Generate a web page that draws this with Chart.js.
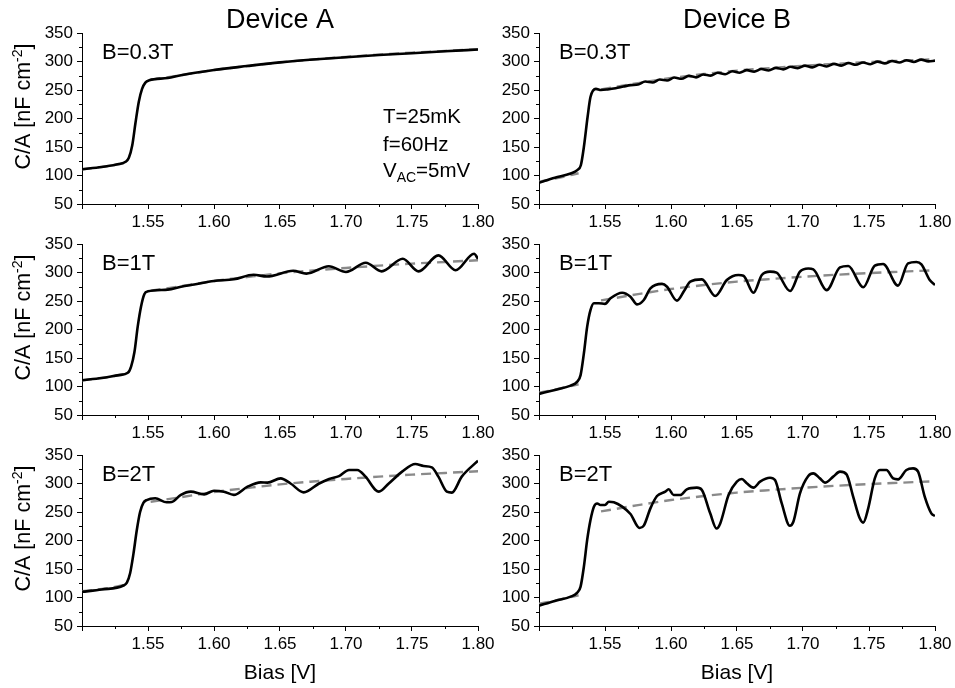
<!DOCTYPE html>
<html>
<head>
<meta charset="utf-8">
<title>C/A vs Bias</title>
<script src="https://cdn.jsdelivr.net/npm/chart.js@4.4.0/dist/chart.umd.min.js"></script>
<style>
  html, body { margin: 0; padding: 0; background: #fff; }
  #wrap { position: relative; width: 955px; height: 688px; overflow: hidden; }
  #wrap canvas { position: absolute; left: 0; top: 0; }
</style>
</head>
<body>
<div id="wrap">
  <canvas id="a03" width="955" height="688"></canvas>
  <canvas id="b03" width="955" height="688"></canvas>
  <canvas id="a1" width="955" height="688"></canvas>
  <canvas id="b1" width="955" height="688"></canvas>
  <canvas id="a2" width="955" height="688"></canvas>
  <canvas id="b2" width="955" height="688"></canvas>
</div>
<script>
// axis ticks
const xTicks = [1.50, 1.55, 1.60, 1.65, 1.70, 1.75, 1.80];
const xMinor = [1.525, 1.575, 1.625, 1.675, 1.725, 1.775];
const yTicks = [50, 100, 150, 200, 250, 300, 350];
const yMinor = [75, 125, 175, 225, 275, 325];

// dashed reference curves (null = gap across the step)
const aFitX = [1.500, 1.518, 1.535, 1.540, 1.552, 1.575, 1.600, 1.625, 1.650, 1.675, 1.700, 1.725, 1.750, 1.775, 1.800];
const aFitY = [111, 116, 123, null, 268, 276, 285, 292, 298.5, 303.5, 308, 312, 315.5, 318.5, 321.5];
const bFitX = [1.500, 1.515, 1.530, 1.540, 1.547, 1.575, 1.600, 1.625, 1.650, 1.675, 1.700, 1.725, 1.750, 1.775, 1.800];
const bFitY = [89, 96, 104, null, 251, 262, 271, 278, 284, 288.5, 292.5, 296, 299, 301.5, 304];

// Device A, B = 0.3 T
const a03X = [1.500, 1.515, 1.528, 1.533, 1.5355, 1.538, 1.5405, 1.543, 1.5455, 1.548, 1.551, 1.565, 1.575, 1.600, 1.625, 1.650, 1.675, 1.700, 1.725, 1.750, 1.775, 1.800];
const a03Y = [111, 115, 120, 124, 131, 152, 192, 229, 252, 263, 267, 271, 276, 285, 292, 298.5, 303.5, 307.5, 311.5, 314.5, 318, 321];

// Device A, B = 1 T
const a1X = [1.500, 1.515, 1.528, 1.5347, 1.5372, 1.5397, 1.5422, 1.5447, 1.5472, 1.550, 1.565, 1.575, 1.585, 1.600, 1.615, 1.630, 1.640, 1.660, 1.670, 1.687, 1.700, 1.715, 1.727, 1.743, 1.755, 1.770, 1.783, 1.797, 1.800];
const a1Y = [111, 115, 120, 124, 135, 160, 205, 240, 262, 267, 270, 275, 279, 285, 288, 296, 293, 303, 298, 311, 301, 317, 302, 324, 302, 330, 304, 333, 324];

// Device A, B = 2 T
const a2X = [1.500, 1.515, 1.5314, 1.534, 1.5364, 1.539, 1.5415, 1.544, 1.5465, 1.549, 1.5555, 1.5641, 1.568, 1.5749, 1.5824, 1.5925, 1.600, 1.6075, 1.615, 1.6254, 1.6354, 1.6405, 1.6505, 1.658, 1.668, 1.6796, 1.6872, 1.6947, 1.7023, 1.7085, 1.7148, 1.7224, 1.7249, 1.7324, 1.7425, 1.7525, 1.7588, 1.765, 1.770, 1.7764, 1.7802, 1.7877, 1.800];
const a2Y = [110, 114, 121, 126, 142, 177, 218, 250, 266, 271, 274, 267, 267.5, 280, 285.7, 281, 287.4, 285.7, 280, 294.4, 302, 301.5, 309, 300, 284.5, 300, 308, 313, 323.7, 323.7, 312, 288.6, 285.7, 300, 320.8, 334.2, 330.7, 328.4, 312, 285.7, 284, 312, 340];

// Device B, B = 0.3 T
const b03X = [1.500, 1.512, 1.524, 1.529, 1.5317, 1.534, 1.5368, 1.539, 1.5431, 1.547, 1.552, 1.558, 1.564, 1.5695,
  1.5750, 1.5805, 1.5860, 1.5915, 1.5970, 1.6025, 1.6080, 1.6135, 1.6190, 1.6245, 1.6300, 1.6355, 1.6410, 1.6465,
  1.6520, 1.6575, 1.6630, 1.6685, 1.6740, 1.6795, 1.6850, 1.6905, 1.6960, 1.7015, 1.7070, 1.7125, 1.7180, 1.7235,
  1.7290, 1.7345, 1.7400, 1.7455, 1.7510, 1.7565, 1.7620, 1.7675, 1.7730, 1.7785, 1.7840, 1.7895, 1.7950, 1.8000];
const b03Y = [87.3, 96, 103.6, 109.5, 118, 150, 202.6, 237.6, 252, 250, 251, 253, 256, 258.5,
  259.5, 264.8, 263.2, 268.3, 266.7, 271.8, 269.7, 274.8, 272.2, 277.3, 275.2, 280.3, 277.7, 282.8,
  280.2, 284.8, 282.2, 286.8, 284.2, 288.8, 286.2, 290.8, 288.2, 292.8, 289.7, 294.3, 291.2, 295.8,
  292.7, 297.3, 294.2, 298.3, 295.2, 299.8, 296.7, 300.8, 298.2, 302.3, 299.2, 303.3, 300.2, 301.5];

// Device B, B = 1 T
const b1X = [1.500, 1.512, 1.524, 1.529, 1.5315, 1.534, 1.5365, 1.539, 1.5416, 1.5453, 1.550, 1.5542, 1.563, 1.5693, 1.5743, 1.5794, 1.5844, 1.5932, 1.597, 1.6045, 1.610, 1.6146, 1.6234, 1.6335, 1.6423, 1.6511, 1.6549, 1.6625, 1.6688, 1.675, 1.680, 1.6902, 1.6977, 1.704, 1.7078, 1.7179, 1.728, 1.7343, 1.7456, 1.7544, 1.7607, 1.772, 1.7796, 1.7859, 1.7897, 1.796, 1.800];
const b1Y = [87, 94, 101.5, 108.5, 120, 158, 205, 234, 246, 246, 245, 254.7, 264.6, 257.6, 244, 251.8, 272, 280, 275, 250.6, 268, 284, 288, 258.8, 286.8, 295.6, 294.4, 264.6, 295.6, 301.5, 299.7, 267.5, 301.5, 307, 305.6, 269, 309, 311.4, 274, 312, 315, 277, 316, 318.4, 314.3, 286.8, 278];

// Device B, B = 2 T
const b2X = [1.500, 1.512, 1.524, 1.529, 1.5315, 1.534, 1.5365, 1.539, 1.5416, 1.5441, 1.5466, 1.550, 1.5529, 1.5567, 1.563, 1.5693, 1.5762, 1.5794, 1.5844, 1.5894, 1.5957, 1.5982, 1.602, 1.607, 1.612, 1.6196, 1.6234, 1.6297, 1.6345, 1.6373, 1.6436, 1.6499, 1.6537, 1.6574, 1.6625, 1.6675, 1.675, 1.6788, 1.6839, 1.690, 1.6927, 1.6977, 1.704, 1.7078, 1.7128, 1.7166, 1.7229, 1.728, 1.733, 1.738, 1.743, 1.7456, 1.7494, 1.7544, 1.7582, 1.7632, 1.7683, 1.772, 1.7783, 1.7834, 1.7872, 1.7922, 1.7972, 1.800];
const b2Y = [85.7, 94, 101.5, 108.5, 119, 154, 201, 236, 259.4, 265, 262.3, 262.3, 268, 267, 259.4, 246.5, 222, 226, 256.4, 278, 285.7, 289.8, 279.8, 279.8, 289.8, 292.7, 288.6, 247.7, 221, 230, 279.8, 303.2, 307.9, 300.3, 292.7, 303.2, 310.2, 306, 265, 226, 233, 282.7, 313.2, 317.8, 309, 301.5, 312, 320.8, 316, 277, 238.9, 231.3, 256.4, 309, 323.7, 323.7, 309, 307.3, 323.7, 326.6, 320.8, 277, 247.7, 243];

const FONT = '"Liberation Sans", Arial, Helvetica, sans-serif';
Chart.defaults.font.family = FONT;
Chart.defaults.color = '#000';

// plot-area frame for each column / row
const cols = [{ left: 82, right: 478, axisW: 82 }, { left: 539, right: 935, axisW: 50 }];
const rows = [{ top: 33, bottom: 204 }, { top: 244, bottom: 415 }, { top: 455, bottom: 626 }];

function pairs(xs, ys) {
  return xs.map((x, i) => ({ x: x, y: ys[i] }));
}

// text, minor ticks and headers drawn on top of each panel
const panelText = {
  id: 'panelText',
  afterDraw(chart, args, opts) {
    const ctx = chart.ctx;
    const area = chart.chartArea;
    const xs = chart.scales.x, ys = chart.scales.y;
    ctx.save();
    // minor ticks
    ctx.strokeStyle = '#000';
    ctx.lineWidth = 1;
    ctx.beginPath();
    xMinor.forEach(v => {
      const px = Math.round(xs.getPixelForValue(v)) + 0.5;
      ctx.moveTo(px, area.bottom);
      ctx.lineTo(px, area.bottom + 3);
    });
    yMinor.forEach(v => {
      const py = Math.round(ys.getPixelForValue(v)) + 0.5;
      ctx.moveTo(area.left, py);
      ctx.lineTo(area.left - 3, py);
    });
    ctx.stroke();

    ctx.fillStyle = '#000';
    ctx.textBaseline = 'alphabetic';
    ctx.textAlign = 'left';
    ctx.font = '22px ' + FONT;
    ctx.fillText(opts.field, area.left + 20, area.top + 26);

    if (opts.header) {
      ctx.textAlign = 'center';
      ctx.font = '27px ' + FONT;
      ctx.fillText(opts.header, (area.left + area.right) / 2, 28);
      ctx.textAlign = 'left';
    }

    if (opts.notes) {
      ctx.font = '20.5px ' + FONT;
      const nx = area.left + 301;
      ctx.fillText('T=25mK', nx, 123);
      ctx.fillText('f=60Hz', nx, 151);
      ctx.fillText('V', nx, 177);
      const wv = ctx.measureText('V').width;
      ctx.font = '14px ' + FONT;
      ctx.fillText('AC', nx + wv, 182);
      const wac = ctx.measureText('AC').width;
      ctx.font = '20.5px ' + FONT;
      ctx.fillText('=5mV', nx + wv + wac, 177);
    }

    if (opts.yTitle) {
      const cy = (area.top + area.bottom) / 2 - 12;
      ctx.translate(30, cy);
      ctx.rotate(-Math.PI / 2);
      const partA = 'C/A [nF cm', partS = '-2', partB = ']';
      ctx.font = '21.5px ' + FONT;
      const wa = ctx.measureText(partA).width;
      const wb = ctx.measureText(partB).width;
      ctx.font = '14px ' + FONT;
      const ws = ctx.measureText(partS).width;
      let sx = -(wa + ws + wb) / 2;
      ctx.font = '21.5px ' + FONT;
      ctx.fillText(partA, sx, 0);
      sx += wa;
      ctx.font = '14px ' + FONT;
      ctx.fillText(partS, sx, -8);
      sx += ws;
      ctx.font = '21.5px ' + FONT;
      ctx.fillText(partB, sx, 0);
    }
    ctx.restore();
  }
};

function makePanel(id, c, r, solidX, solidY, fitX, fitY, field, extra) {
  const col = cols[c], row = rows[r];
  const isBottom = r === 2;
  const xH = isBottom ? 62 : 30;
  new Chart(document.getElementById(id), {
    type: 'line',
    data: {
      datasets: [
        {
          data: pairs(solidX, solidY),
          borderColor: '#000',
          borderWidth: 2.6,
          pointRadius: 0,
          cubicInterpolationMode: 'monotone',
          order: 0
        },
        {
          data: pairs(fitX, fitY),
          borderColor: '#8a8a8a',
          borderWidth: 2.4,
          borderDash: [10, 6],
          pointRadius: 0,
          cubicInterpolationMode: 'monotone',
          spanGaps: false,
          order: 1
        }
      ]
    },
    options: {
      responsive: false,
      animation: false,
      devicePixelRatio: 1,
      events: [],
      layout: {
        padding: {
          left: col.left - col.axisW,
          right: 955 - col.right,
          top: row.top,
          bottom: 688 - row.bottom - xH
        }
      },
      plugins: {
        legend: { display: false },
        tooltip: { enabled: false },
        panelText: Object.assign({ field: field }, extra || {})
      },
      scales: {
        x: {
          type: 'linear',
          min: 1.5,
          max: 1.8,
          afterBuildTicks: s => { s.ticks = xTicks.map(v => ({ value: v })); },
          afterFit: s => { s.height = xH; },
          ticks: {
            autoSkip: false,
            maxRotation: 0,
            padding: 3,
            font: { size: 17 },
            color: '#000',
            callback: v => (Math.abs(v - 1.5) < 1e-6 ? '' : v.toFixed(2))
          },
          grid: { drawOnChartArea: false, tickLength: 5, tickColor: '#000', tickWidth: 1 },
          border: { display: true, color: '#000', width: 1 },
          title: {
            display: isBottom,
            text: 'Bias [V]',
            font: { size: 21 },
            color: '#000',
            padding: { top: 0, bottom: 2 }
          }
        },
        y: {
          min: 50,
          max: 350,
          afterBuildTicks: s => { s.ticks = yTicks.map(v => ({ value: v })); },
          afterFit: s => { s.width = col.axisW; },
          ticks: { padding: 4, font: { size: 17 }, color: '#000' },
          grid: { drawOnChartArea: false, tickLength: 5, tickColor: '#000', tickWidth: 1 },
          border: { display: true, color: '#000', width: 1 }
        }
      }
    },
    plugins: [panelText]
  });
}

makePanel('a03', 0, 0, a03X, a03Y, aFitX, aFitY, 'B=0.3T', { header: 'Device A', notes: true, yTitle: true });
makePanel('b03', 1, 0, b03X, b03Y, bFitX, bFitY, 'B=0.3T', { header: 'Device B' });
makePanel('a1', 0, 1, a1X, a1Y, aFitX, aFitY, 'B=1T', { yTitle: true });
makePanel('b1', 1, 1, b1X, b1Y, bFitX, bFitY, 'B=1T');
makePanel('a2', 0, 2, a2X, a2Y, aFitX, aFitY, 'B=2T', { yTitle: true });
makePanel('b2', 1, 2, b2X, b2Y, bFitX, bFitY, 'B=2T');
</script>
</body>
</html>
